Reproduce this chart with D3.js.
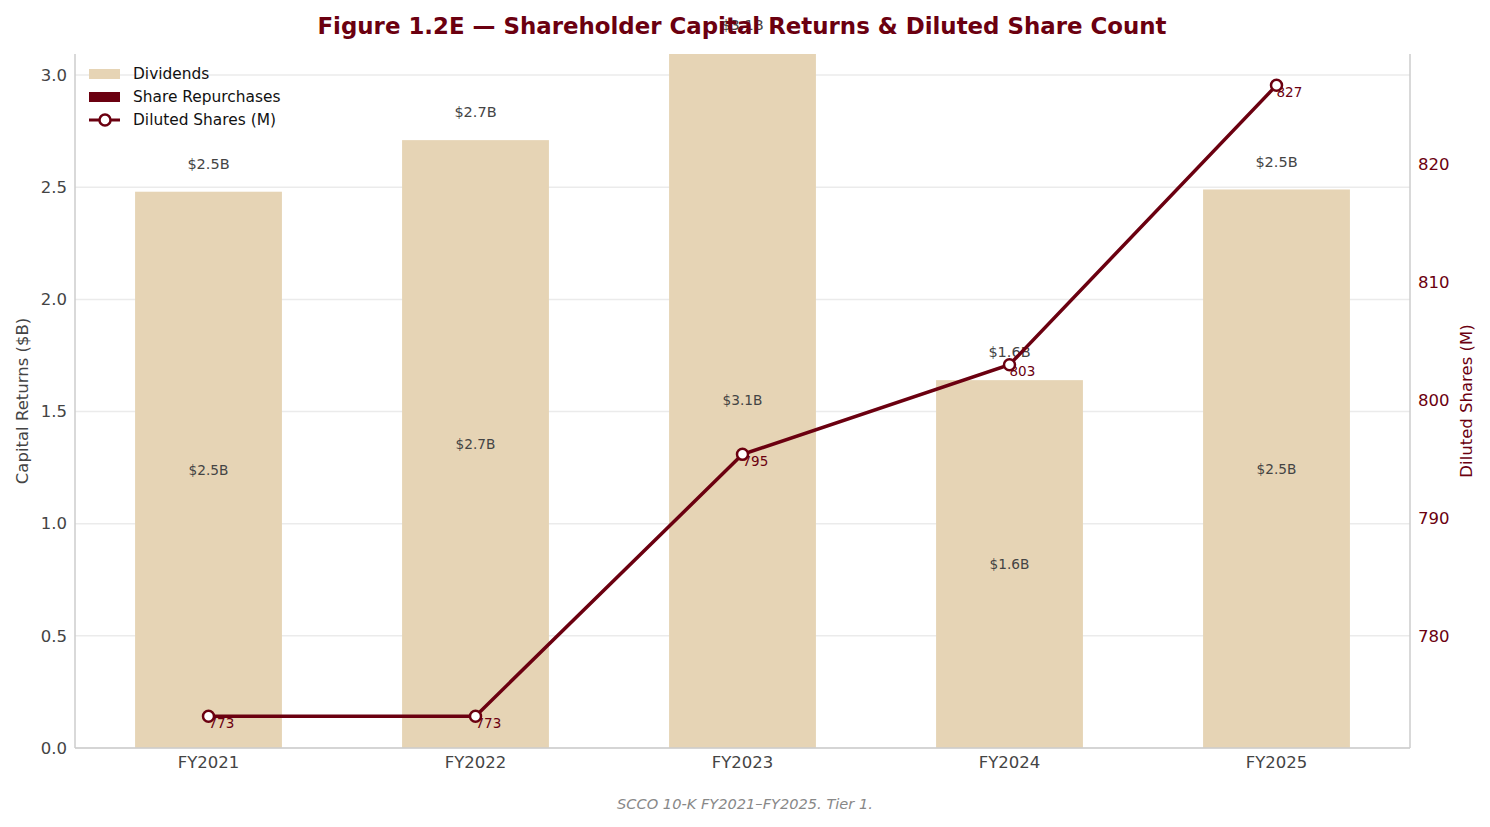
<!DOCTYPE html>
<html>
<head>
<meta charset="utf-8">
<script src="https://cdn.jsdelivr.net/npm/d3@7"></script>
<style>
  body { margin: 0; background: #fff; font-family: "DejaVu Sans", sans-serif; }
</style>
</head>
<body>
<div id="chart"></div>
<script>
// data
var years = ["FY2021", "FY2022", "FY2023", "FY2024", "FY2025"];
var dividends = [2.48, 2.71, 3.10, 1.64, 2.49];
var repurchases = [0, 0, 0, 0, 0];
var dilutedShares = [773.2, 773.2, 795.4, 803.0, 826.7];
var leftTicks = [0, 0.5, 1.0, 1.5, 2.0, 2.5, 3.0];
var rightTicks = [780, 790, 800, 810, 820];

var W = 1490, H = 827;
var m = { top: 54, right: 80, bottom: 79, left: 75 };
var maroon = "#6b0010", sand = "#e6d4b5";

var svg = d3.select("#chart").append("svg")
	.attr("width", W)
	.attr("height", H);

var x = d3.scaleBand()
	.domain(years)
	.range([m.left, W - m.right])
	.paddingInner(0.45)
	.paddingOuter(0.225);

var y = d3.scaleLinear()
	.domain([0, 3.094])
	.range([H - m.bottom, m.top]);

var y2 = d3.scaleLinear()
	.domain([770.5, 829.35])
	.range([H - m.bottom, m.top]);

// grid
svg.append("g")
	.selectAll("line")
	.data(leftTicks)
	.enter()
	.append("line")
	.attr("x1", m.left)
	.attr("x2", W - m.right)
	.attr("y1", function(d) { return y(d); })
	.attr("y2", function(d) { return y(d); })
	.attr("stroke", "#ebebeb")
	.attr("stroke-width", 1.5);

// bars (dividends, repurchases stacked on top)
svg.append("g")
	.selectAll("rect")
	.data(years)
	.enter()
	.append("rect")
	.attr("x", function(d) { return x(d); })
	.attr("width", x.bandwidth())
	.attr("y", function(d, i) { return Math.max(y(dividends[i]), m.top); })
	.attr("height", function(d, i) { return y(0) - Math.max(y(dividends[i]), m.top); })
	.attr("fill", sand);

svg.append("g")
	.selectAll("rect")
	.data(years)
	.enter()
	.append("rect")
	.attr("x", function(d) { return x(d); })
	.attr("width", x.bandwidth())
	.attr("y", function(d, i) { return y(dividends[i] + repurchases[i]); })
	.attr("height", function(d, i) { return y(dividends[i]) - y(dividends[i] + repurchases[i]); })
	.attr("fill", maroon);

// inner labels
svg.append("g")
	.selectAll("text")
	.data(years)
	.enter()
	.append("text")
	.attr("x", function(d) { return x(d) + x.bandwidth() / 2; })
	.attr("y", function(d, i) { return y(dividends[i] / 2); })
	.attr("dy", "0.35em")
	.attr("text-anchor", "middle")
	.attr("font-size", 13.7)
	.attr("fill", "#444")
	.text(function(d, i) { return "$" + dividends[i].toFixed(1) + "B"; });

// total labels above bars
svg.append("g")
	.selectAll("text")
	.data(years)
	.enter()
	.append("text")
	.attr("x", function(d) { return x(d) + x.bandwidth() / 2; })
	.attr("y", function(d, i) { return y(dividends[i] + repurchases[i]) - 28; })
	.attr("dy", "0.35em")
	.attr("text-anchor", "middle")
	.attr("font-size", 14.5)
	.attr("fill", "#444")
	.text(function(d, i) { return "$" + (dividends[i] + repurchases[i]).toFixed(1) + "B"; });

// axes frame
svg.append("line")
	.attr("x1", m.left).attr("x2", m.left)
	.attr("y1", m.top).attr("y2", H - m.bottom)
	.attr("stroke", "#cccccc").attr("stroke-width", 1.5);
svg.append("line")
	.attr("x1", W - m.right).attr("x2", W - m.right)
	.attr("y1", m.top).attr("y2", H - m.bottom)
	.attr("stroke", "#cccccc").attr("stroke-width", 1.5);
svg.append("line")
	.attr("x1", m.left).attr("x2", W - m.right)
	.attr("y1", H - m.bottom).attr("y2", H - m.bottom)
	.attr("stroke", "#cccccc").attr("stroke-width", 1.5);

// left axis
var gl = svg.append("g")
	.attr("transform", "translate(" + m.left + ",0)")
	.call(d3.axisLeft(y).tickValues(leftTicks).tickFormat(d3.format(".1f")).tickSize(0).tickPadding(8));
gl.select(".domain").remove();
gl.selectAll("text").attr("font-size", 16.5).attr("fill", "#444").attr("font-family", "DejaVu Sans");

// right axis
var gr = svg.append("g")
	.attr("transform", "translate(" + (W - m.right) + ",0)")
	.call(d3.axisRight(y2).tickValues(rightTicks).tickSize(0).tickPadding(8));
gr.select(".domain").remove();
gr.selectAll("text").attr("font-size", 16.5).attr("fill", maroon).attr("font-family", "DejaVu Sans");

// x axis
var gx = svg.append("g")
	.attr("transform", "translate(0," + (H - m.bottom) + ")")
	.call(d3.axisBottom(x).tickSize(0).tickPadding(8));
gx.select(".domain").remove();
gx.selectAll("text").attr("font-size", 16.5).attr("fill", "#444").attr("font-family", "DejaVu Sans");

// axis titles
svg.append("text")
	.attr("transform", "translate(28," + ((m.top + H - m.bottom) / 2) + ") rotate(-90)")
	.attr("text-anchor", "middle")
	.attr("font-size", 16.5)
	.attr("fill", "#444")
	.text("Capital Returns ($B)");

svg.append("text")
	.attr("transform", "translate(1472," + ((m.top + H - m.bottom) / 2) + ") rotate(-90)")
	.attr("text-anchor", "middle")
	.attr("font-size", 16.5)
	.attr("fill", maroon)
	.text("Diluted Shares (M)");

// diluted shares line
var line = d3.line()
	.x(function(d, i) { return x(years[i]) + x.bandwidth() / 2; })
	.y(function(d) { return y2(d); });

svg.append("path")
	.datum(dilutedShares)
	.attr("d", line)
	.attr("fill", "none")
	.attr("stroke", maroon)
	.attr("stroke-width", 3.5);

svg.append("g")
	.selectAll("text")
	.data(dilutedShares)
	.enter()
	.append("text")
	.attr("x", function(d, i) { return x(years[i]) + x.bandwidth() / 2; })
	.attr("y", function(d) { return y2(d) + 7; })
	.attr("dy", "0.35em")
	.attr("font-size", 13.5)
	.attr("fill", maroon)
	.text(function(d) { return Math.round(d); });

svg.append("g")
	.selectAll("circle")
	.data(dilutedShares)
	.enter()
	.append("circle")
	.attr("cx", function(d, i) { return x(years[i]) + x.bandwidth() / 2; })
	.attr("cy", function(d) { return y2(d); })
	.attr("r", 5.5)
	.attr("fill", "#fff")
	.attr("stroke", maroon)
	.attr("stroke-width", 2.5);

// legend
var lg = svg.append("g").attr("transform", "translate(89,74)");
lg.append("rect").attr("x", 0).attr("y", -5).attr("width", 31).attr("height", 10).attr("fill", sand);
lg.append("text").attr("x", 44).attr("y", 0).attr("dy", "0.35em").attr("font-size", 15.4).attr("fill", "#111").text("Dividends");
lg.append("rect").attr("x", 0).attr("y", 18).attr("width", 31).attr("height", 10).attr("fill", maroon);
lg.append("text").attr("x", 44).attr("y", 23).attr("dy", "0.35em").attr("font-size", 15.4).attr("fill", "#111").text("Share Repurchases");
lg.append("line").attr("x1", 0).attr("x2", 31).attr("y1", 46).attr("y2", 46).attr("stroke", maroon).attr("stroke-width", 3);
lg.append("circle").attr("cx", 16).attr("cy", 46).attr("r", 5.5).attr("fill", "#fff").attr("stroke", maroon).attr("stroke-width", 2.5);
lg.append("text").attr("x", 44).attr("y", 46).attr("dy", "0.35em").attr("font-size", 15.4).attr("fill", "#111").text("Diluted Shares (M)");

// title
svg.append("text")
	.attr("x", 742)
	.attr("y", 26)
	.attr("dy", "0.35em")
	.attr("text-anchor", "middle")
	.attr("font-size", 22.9)
	.attr("font-weight", "bold")
	.attr("fill", maroon)
	.text("Figure 1.2E \u2014 Shareholder Capital Returns & Diluted Share Count");

// footer
svg.append("text")
	.attr("x", 745)
	.attr("y", 804)
	.attr("dy", "0.35em")
	.attr("text-anchor", "middle")
	.attr("font-size", 14.6)
	.attr("font-style", "italic")
	.attr("fill", "#888")
	.text("SCCO 10-K FY2021\u2013FY2025. Tier 1.");
</script>
</body>
</html>
